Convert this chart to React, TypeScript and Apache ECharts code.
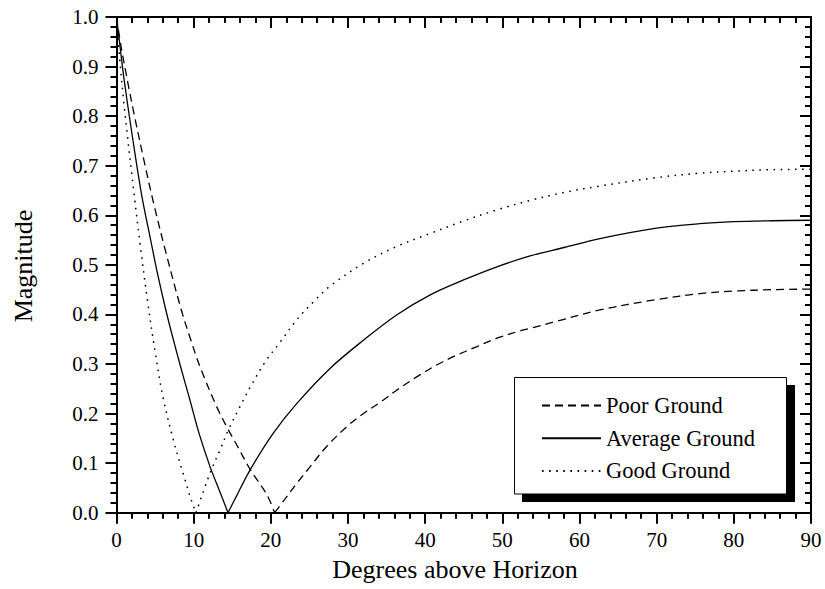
import React, { useEffect, useRef } from "react";
import * as echarts from "echarts";

// ---- Data ----
// Poor Ground (dashed)
const poorDescX = [0, 0.6, 1.5, 2.4, 3.5, 4.8, 6.4, 8.4, 9.6, 10.82, 12.98, 14.5, 15.5, 17.3, 19.46, 20.5];
const poorDescY = [1.0, 0.94, 0.865, 0.795, 0.715, 0.625, 0.525, 0.409, 0.35, 0.2945, 0.214, 0.167, 0.139, 0.088, 0.037, 0.0];
const poorRiseX = [20.5, 21.8, 23.35, 25.1, 27.2, 29.8, 32.0, 34.1, 36.3, 38.9, 41.5, 44.1, 46.7, 49.3, 51.9, 53.6, 57, 62.65, 70, 75.6, 80, 85, 90];
const poorRiseY = [0.0, 0.027, 0.059, 0.093, 0.133, 0.173, 0.2, 0.222, 0.247, 0.274, 0.298, 0.318, 0.335, 0.352, 0.365, 0.372, 0.386, 0.409, 0.43, 0.442, 0.447, 0.45, 0.451];

// Average Ground (solid)
const avgDescX = [0, 0.5, 1, 2, 3.27, 4.43, 5.21, 6.3, 7.15, 8.3, 9.52, 10.7, 12.12, 13.3, 14.45];
const avgDescY = [1.0, 0.935, 0.872, 0.765, 0.64, 0.55, 0.49, 0.415, 0.362, 0.295, 0.227, 0.16, 0.093, 0.046, 0.0];
const avgRiseX = [14.45, 15.5, 17.3, 20.3, 23.35, 27.67, 32, 36.3, 40.6, 44.9, 49.3, 53.6, 58, 62.65, 70, 75.6, 80, 85, 90];
const avgRiseY = [0.0, 0.032, 0.086, 0.16, 0.22, 0.291, 0.348, 0.399, 0.439, 0.469, 0.496, 0.518, 0.535, 0.553, 0.574, 0.583, 0.587, 0.589, 0.59];

// Good Ground (dotted)
const goodDescX = [0, 0.5, 1, 2, 3.05, 4.0, 5.0, 6.0, 7.36, 8.66, 9.7, 10.3];
const goodDescY = [1.0, 0.9, 0.82, 0.68, 0.543, 0.43, 0.325, 0.235, 0.147, 0.078, 0.025, 0.0];
const goodRiseX = [10.3, 12.1, 13.4, 14.5, 16.0, 17.5, 19.3, 21.2, 23.4, 25.5, 27.67, 32, 36.3, 40.6, 44.9, 49.3, 53.6, 58, 62.65, 70, 75.6, 80, 85, 90];
const goodRiseY = [0.0, 0.079, 0.126, 0.167, 0.214, 0.258, 0.305, 0.344, 0.39, 0.425, 0.457, 0.503, 0.537, 0.563, 0.588, 0.611, 0.63, 0.646, 0.659, 0.676, 0.685, 0.689, 0.692, 0.693];

const seriesNames = ["Poor Ground", "Average Ground", "Good Ground"];
const xTitle = "Degrees above Horizon";
const yTitle = "Magnitude";

const FONT = "'Liberation Serif', 'Times New Roman', serif";

function pairs(xs: number[], ys: number[]) {
  return xs.map((x, i) => [x, ys[i]]);
}

export default function App() {
  const ref = useRef<HTMLDivElement>(null);

  useEffect(() => {
    const chart = echarts.init(ref.current!, null, { renderer: "svg" });

    const axisLine = { show: true, onZero: false, lineStyle: { color: "#000", width: 2 } };
    const tick = (inside: boolean) => ({ show: true, inside, length: 11, lineStyle: { color: "#000", width: 2 } });
    const minor = { show: true, splitNumber: 5, length: 6, lineStyle: { color: "#000", width: 2 } };
    const label = { color: "#000", fontFamily: FONT, fontSize: 21 };

    const lineStyles: any[] = [
      { color: "#000", width: 1.3, type: [8, 5] },
      { color: "#000", width: 1.3, type: "solid" },
      { color: "#000", width: 1.5, type: [1.6, 5.5] },
    ];
    const parts = [
      [pairs(poorDescX, poorDescY), pairs(poorRiseX, poorRiseY)],
      [pairs(avgDescX, avgDescY), pairs(avgRiseX, avgRiseY)],
      [pairs(goodDescX, goodDescY), pairs(goodRiseX, goodRiseY)],
    ];
    const series: any[] = [];
    parts.forEach((p, i) => {
      p.forEach((d) => {
        series.push({
          type: "line",
          name: seriesNames[i],
          xAxisIndex: 0,
          yAxisIndex: 0,
          data: d,
          symbol: "none",
          smooth: 0.35,
          silent: true,
          color: "#000",
          itemStyle: { color: "#000" },
          lineStyle: lineStyles[i],
          z: 3,
        });
      });
    });

    chart.setOption({
      animation: false,
      backgroundColor: "#fff",
      textStyle: { fontFamily: FONT, color: "#000" },
      grid: { left: 116.5, right: 14, top: 17, bottom: 76.3, containLabel: false },
      xAxis: [
        {
          type: "value", position: "bottom", min: 0, max: 90, interval: 10,
          axisLine, axisTick: tick(false), minorTick: minor,
          splitLine: { show: false }, minorSplitLine: { show: false },
          axisLabel: { ...label, margin: 17 },
        },
        {
          type: "value", position: "top", min: 0, max: 90, interval: 10,
          axisLine, axisTick: tick(true), minorTick: minor,
          splitLine: { show: false }, axisLabel: { show: false },
        },
      ],
      yAxis: [
        {
          type: "value", position: "left", min: 0, max: 1, interval: 0.1,
          axisLine, axisTick: tick(false), minorTick: minor,
          splitLine: { show: false },
          axisLabel: { ...label, margin: 18, formatter: (v: number) => v.toFixed(1) },
        },
        {
          type: "value", position: "right", min: 0, max: 1, interval: 0.1,
          axisLine, axisTick: tick(true), minorTick: minor,
          splitLine: { show: false }, axisLabel: { show: false },
        },
      ],
      legend: {
        data: seriesNames,
        orient: "vertical",
        left: 541,
        top: 394,
        padding: 0,
        itemWidth: 59,
        itemHeight: 14,
        itemGap: 9.7,
        selectedMode: false,
        z: 200,
        itemStyle: { opacity: 0 },
        textStyle: { color: "#000", fontFamily: FONT, fontSize: 22.5, lineHeight: 22 },
      },
      graphic: [
        { type: "rect", z: 100, shape: { x: 522, y: 385, width: 273, height: 117 }, style: { fill: "#000" } },
        { type: "rect", z: 101, shape: { x: 514.5, y: 377.5, width: 272, height: 116.5 }, style: { fill: "#fff", stroke: "#000", lineWidth: 1 } },
        {
          type: "text", z: 101, x: 455, y: 569,
          style: { text: xTitle, font: `26px ${FONT}`, fill: "#000", align: "center", verticalAlign: "middle" },
        },
        {
          type: "text", z: 101, x: 23, y: 266, rotation: Math.PI / 2,
          style: { text: yTitle, font: `26px ${FONT}`, fill: "#000", align: "center", verticalAlign: "middle" },
        },
      ],
      series,
    });

    return () => chart.dispose();
  }, []);

  return (
    <div
      ref={ref}
      style={{ position: "fixed", left: 0, top: 0, width: 825, height: 589, background: "#fff" }}
    />
  );
}
